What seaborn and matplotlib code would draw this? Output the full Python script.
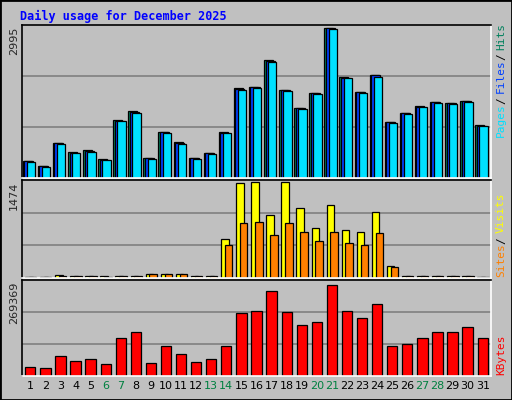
import numpy as np
import pandas as pd
import matplotlib
matplotlib.use("Agg")
import matplotlib.pyplot as plt
import seaborn as sns

days = list(range(1, 32))
weekend = [6, 7, 13, 14, 20, 21, 27, 28]
hits = [340, 240, 700, 510, 550, 370, 1150, 1340, 400, 920, 710, 400, 500, 910, 1790, 1820, 2345, 1760, 1400, 1700, 2995, 2010, 1720, 2060, 1120, 1300, 1430, 1520, 1500, 1540, 1050]
files = [330, 230, 690, 500, 540, 360, 1140, 1320, 390, 910, 700, 390, 490, 900, 1780, 1810, 2335, 1750, 1390, 1690, 2985, 2000, 1710, 2050, 1110, 1290, 1420, 1510, 1490, 1530, 1040]
pages = [320, 220, 680, 490, 525, 355, 1130, 1300, 385, 900, 680, 385, 480, 890, 1760, 1800, 2320, 1740, 1380, 1680, 2970, 1990, 1690, 2010, 1100, 1280, 1410, 1500, 1480, 1520, 1030]
visits = [20, 20, 40, 25, 30, 25, 25, 30, 60, 60, 60, 30, 30, 590, 1460, 1474, 960, 1474, 1070, 770, 1110, 740, 710, 1010, 190, 35, 35, 35, 35, 35, 10]
sites = [20, 20, 30, 25, 25, 20, 25, 25, 55, 55, 55, 25, 25, 500, 840, 860, 660, 840, 710, 560, 710, 530, 510, 690, 170, 35, 35, 35, 35, 35, 10]
kbytes = [28000, 25000, 60000, 45000, 51000, 36000, 114000, 132000, 40000, 90000, 66000, 42000, 51000, 90000, 187000, 193000, 252000, 190000, 150000, 159000, 269369, 193000, 172000, 214000, 90000, 96000, 114000, 132000, 132000, 144000, 114000]

sns.set_style("white")
plt.rcParams["font.family"] = ["DejaVu Sans"]
W, H = 512, 400
fig = plt.figure(figsize=(5.12, 4.0), dpi=100, facecolor="#c0c0c0")

def ax_px(x0, y0, x1, y1):
    return fig.add_axes([x0 / W, 1 - y1 / H, (x1 - x0) / W, (y1 - y0) / H])

fig.patches.append(plt.Rectangle((0, 0), 1, 1, transform=fig.transFigure, fill=False, ec="black", lw=2))
fig.text(20 / W, 1 - 16 / H, "Daily usage for December 2025", color="#0000ff",
         family="DejaVu Sans Mono", weight="bold", fontsize=8.5, va="center")

x = np.array(days, dtype=float)

def style(ax, top):
    ax.set_facecolor("#c0c0c0")
    ax.set_xlim(0.45, 31.55)
    ax.set_ylim(0, top)
    ax.set_xticks([]); ax.set_yticks([])
    for s in ax.spines.values():
        s.set_color("black"); s.set_linewidth(1.2)
    ax.spines["bottom"].set_color("white"); ax.spines["right"].set_color("white")
    for g in (top / 3, 2 * top / 3):
        ax.axhline(g, color="#808080", lw=1.2, zorder=0)

def ylab(txt, y_top_px):
    fig.text(14 / W, 1 - y_top_px / H, txt, rotation=90, ha="center", va="top", fontsize=8)

ek = dict(edgecolor="black", linewidth=0.9, zorder=2)

# Panel 1
ax1 = ax_px(22, 25, 491, 178)
style(ax1, 3050)
ax1.bar(x - 0.2, hits, width=0.6, color="#00805c", **ek)
ax1.bar(x - 0.1, files, width=0.6, color="#0040ff", **ek)
ax1.bar(x + 0.05, pages, width=0.55, color="#00e0ff", **ek)
ylab("2995", 27)

# Panel 2
ax2 = ax_px(22, 180, 491, 278)
style(ax2, 1500)
ax2.bar(x - 0.1, visits, width=0.5, color="#ffff00", **ek)
ax2.bar(x + 0.15, sites, width=0.5, color="#ff8000", **ek)
ylab("1474", 182)

# Panel 3
ax3 = ax_px(22, 280, 491, 376)
style(ax3, 285000)
df = pd.DataFrame({"day": x, "kb": kbytes})
sns.barplot(data=df, x="day", y="kb", native_scale=True, width=0.68, color="#ff0000",
            saturation=1, edgecolor="black", linewidth=0.9, ax=ax3, zorder=2)
ax3.set_xlabel(""); ax3.set_ylabel("")
ax3.set_xticks([]); ax3.set_yticks([])
ax3.set_xlim(0.45, 31.55)
ylab("269369", 282)

for d in days:
    ax3.text(d, -0.05, str(d), transform=ax3.get_xaxis_transform(), ha="center", va="top",
             fontsize=8, color="#008040" if d in weekend else "black")

def vlabel(parts, x_px, y_bottom_px):
    y = y_bottom_px
    for txt, col, ln in parts:
        fig.text(x_px / W, 1 - y / H, txt, rotation=90, color=col, family="DejaVu Sans Mono",
                 fontsize=8, ha="center", va="bottom")
        y -= ln * 6.6

vlabel([("Pages", "#00e0ff", 5), ("/", "black", 1.6), ("Files", "#0040ff", 5), ("/", "black", 1.6), ("Hits", "#00805c", 4)], 501, 137)
vlabel([("Sites", "#ff8000", 5), ("/", "black", 1.6), ("Visits", "#ffff00", 6)], 501, 277)
vlabel([("KBytes", "#ff0000", 6)], 501, 375)

fig.savefig("out.png", dpi=100, facecolor=fig.get_facecolor())
